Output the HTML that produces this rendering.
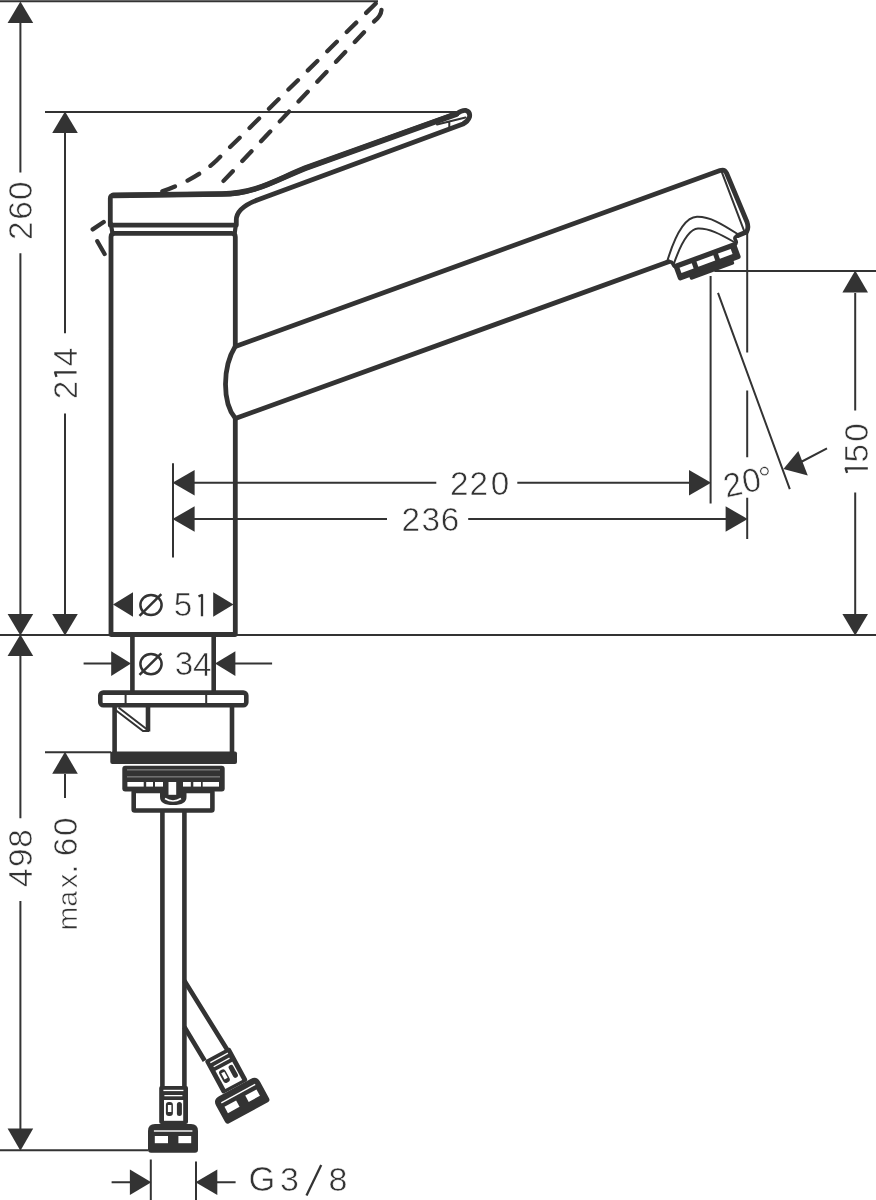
<!DOCTYPE html>
<html><head><meta charset="utf-8"><style>
html,body{margin:0;padding:0;background:#fff;}
svg{display:block;will-change:transform;}
text{font-family:"Liberation Sans",sans-serif;fill:#333;}
</style></head><body>
<svg width="876" height="1200" viewBox="0 0 876 1200">
<rect width="876" height="1200" fill="#fff"/>
<g stroke="#333" stroke-width="2" fill="none">
<path d="M0 1.2H378 M45 112H457 M0 635H876
M20.4 22V172.5 M20.4 253.3V614 M20.4 656V818.3 M20.4 901V1129
M65 133V333.3 M65 413.6V614 M65 774V798 M45 752.3H111 M0 1150.3H148
M173 463.2V557.4 M194 482.7H436.3 M517.3 482.7H690 M194 519H387 M468.2 519H726
M710.6 276V503.4 M747.2 232V352.4 M747.2 390.6V457.3 M747.2 497.7V539
M714.4 271H876 M855.2 293V410.6 M855.2 492.4V614
M718 292.9L789.8 489.2 M827 448.4L801 462
M83.6 663.6H112 M235 663.6H272.1
M150.8 1159.6V1200 M196 1161.6V1200 M111.6 1182.2H131 M216 1182.2H235.6"/>
</g>
<g fill="#333">
<path d="M20.4 1.5L33.2 23H7.6Z"/>
<path d="M65 111.5L77.8 133H52.2Z"/>
<path d="M20.4 635.5L33.2 614H7.6Z"/>
<path d="M65 635.5L77.8 614H52.2Z"/>
<path d="M20.4 634.5L33.2 656H7.6Z"/>
<path d="M65 751.8L77.8 773.8H52.2Z"/>
<path d="M20.4 1150.8L33.2 1128.6H7.6Z"/>
<path d="M172.5 482.7L194.6 470V495.4Z"/>
<path d="M172.5 519L194.6 506.3V531.7Z"/>
<path d="M711.1 482.7L689 470V495.4Z"/>
<path d="M747.7 519L725.6 506.3V531.7Z"/>
<path d="M855.2 270.5L868 292.5H842.4Z"/>
<path d="M855.2 635.5L868 614H842.4Z"/>
<path d="M113 604.5L133 592.2V616.8Z"/>
<path d="M233.5 604.5L213.2 592.2V616.8Z"/>
<path d="M131 663.6L111.2 651.3V675.9Z"/>
<path d="M215 663.6L235.4 651.3V675.9Z"/>
<path d="M151.3 1182.2L129.9 1169.4V1195Z"/>
<path d="M195.5 1182.2L217.3 1169.4V1195Z"/>
<path d="M783.4 469L798.3 451L807.8 475.4Z"/>
</g>
<g class="lbl" stroke="#fff" stroke-width="0.6"><text transform="translate(32.1,0) rotate(-90)" x="-230.8" y="0" font-size="33.3" text-anchor="middle">2</text><text transform="translate(31.8,0) rotate(-90)" x="-210.6" y="0" font-size="33.3" text-anchor="middle">6</text><text transform="translate(31.8,0) rotate(-90)" x="-190.8" y="0" font-size="33.3" text-anchor="middle">0</text><text transform="translate(76.5,0) rotate(-90)" x="-390.0" y="0" font-size="33.3" text-anchor="middle">2</text><text transform="translate(76.8,0) rotate(-90)" x="-357.0" y="0" font-size="33.3" text-anchor="middle">4</text><text transform="translate(867.5,0) rotate(-90)" x="-453.2" y="0" font-size="33.3" text-anchor="middle">5</text><text transform="translate(867.5,0) rotate(-90)" x="-432.4" y="0" font-size="33.3" text-anchor="middle">0</text><text transform="translate(32.2,0) rotate(-90)" x="-877.7" y="0" font-size="33.3" text-anchor="middle">4</text><text transform="translate(31.6,0) rotate(-90)" x="-857.7" y="0" font-size="33.3" text-anchor="middle">9</text><text transform="translate(31.6,0) rotate(-90)" x="-838.4" y="0" font-size="33.3" text-anchor="middle">8</text><text transform="translate(76.8,0) rotate(-90)" x="-826.8" y="0" font-size="33.3" text-anchor="middle">0</text><text transform="translate(76.8,0) rotate(-90)" x="-846.9" y="0" font-size="33.3" text-anchor="middle">6</text><text transform="translate(77.1,0) rotate(-90)" x="-869.2" y="0" font-size="33.3" text-anchor="middle">.</text><text transform="translate(77.1,0) rotate(-90)" x="-880.8" y="0" font-size="28.5" text-anchor="middle">x</text><text transform="translate(76.8,0) rotate(-90)" x="-898.7" y="0" font-size="28.5" text-anchor="middle">a</text><text transform="translate(77.1,0) rotate(-90)" x="-918.5" y="0" font-size="28.5" text-anchor="middle">m</text><text x="459.2" y="495.3" font-size="33.3" text-anchor="middle">2</text><text x="478.8" y="495.3" font-size="33.3" text-anchor="middle">2</text><text x="499.9" y="495.0" font-size="33.3" text-anchor="middle">0</text><text x="410.8" y="531.3" font-size="33.3" text-anchor="middle">2</text><text x="430.7" y="531.0" font-size="33.3" text-anchor="middle">3</text><text x="449.9" y="531.0" font-size="33.3" text-anchor="middle">6</text><text x="183.0" y="616.0" font-size="33.3" text-anchor="middle">5</text><text x="183.9" y="675.1" font-size="33.3" text-anchor="middle">3</text><text x="202.2" y="675.7" font-size="33.3" text-anchor="middle">4</text><text x="262.0" y="1190.7" font-size="34.5" text-anchor="middle">G</text><text x="289.5" y="1190.7" font-size="34" text-anchor="middle">3</text><text x="337.9" y="1190.7" font-size="34" text-anchor="middle">8</text><g transform="rotate(-12 745 483)"><text x="732.5" y="493.5" font-size="33.3" text-anchor="middle">2</text><text x="751.8" y="493.2" font-size="33.3" text-anchor="middle">0</text><text x="766.5" y="494.0" font-size="33.3" text-anchor="middle">°</text></g></g>
<g stroke="#333" stroke-width="2.3" fill="none" stroke-linecap="butt"><path d="M54.3 372.4H76.5M54.9 371.9L56.5 376.9"/><path d="M844.9 468.4H867.8M845.5 467.9L847.1 472.9"/><path d="M202.0 594.2V616.3M202.5 594.8L198.5 596.4"/><path d="M306.5 1195.5L321.2 1165"/></g>
<g stroke="#333" stroke-width="2.5" fill="none">
<ellipse cx="151" cy="605" rx="10.6" ry="10.1"/><path d="M139.5 615.8L161.3 594.2"/>
<ellipse cx="151" cy="664.1" rx="10.6" ry="10.1"/><path d="M139.5 674.9L161.3 653.3"/>
</g>
<g stroke="#333" stroke-width="4.8" fill="none" stroke-linejoin="round" stroke-linecap="round">
<path d="M111 634.5V237Q111 233.4 114.6 233.4H231.7Q235.3 233.4 235.3 237V346.5 M235.3 418.5V634.5H111"/>
<path d="M236.3 225V220Q236.3 207.8 258 199.7L463 124Q468 121.5 469.5 117Q470.5 112 466 110.5Q462 110 457 113.6L310 166.5C280 177.2 258 194 222 194L113.3 195.4Q110.3 195.6 110.3 198.5V225.2H236.3"/>
<path d="M235.3 346.5L720 170.6Q724.5 169 726.5 173L747 222Q749 228 746.5 232L738 235.5 M235.3 418.3C222 402 222.5 367 235.3 346.2 M235.3 418.5L668.6 261.8"/>
</g>
<g stroke="#333" stroke-width="2" fill="none" stroke-linecap="round">
<path d="M456.5 114L310 166.5C280 177.2 258 193.8 222 194L113.3 195.4" stroke-width="5.6"/>
<path d="M110.8 223.5L112.6 234 M236 223.5L234.6 234" stroke-width="4.2"/>
<path d="M721.9 172.3L744.5 231.9 M437 124.5L465.5 117.5 M449.3 121.5V127.5"/>
<path d="M666 262.5Q671.5 260.5 673 264Q674.5 267.5 677.5 266.5 M738 235.5Q733.5 237 735.5 240Q737.5 243 734 245.5" stroke-width="3.6"/>
<path d="M667 262C676 232 686 217 697 216.8C710 216.5 722 224 737.6 234 M673.4 265C681 243 689 229 698 228.6C709 228.2 720 234 734 242"/>
</g>
<g transform="translate(707.2,261.8) rotate(-20.2)" fill="#333">
<rect x="-33.3" y="-9.2" width="66.6" height="17.5" rx="2.5"/>
<rect x="-22" y="6" width="47" height="5.5" rx="1.5"/>
<g fill="#fff"><rect x="-28" y="-4" width="13" height="5.5"/><rect x="-10" y="-4" width="18" height="5.5"/><rect x="13" y="-4" width="13.5" height="5.5"/></g>
</g>
<g stroke="#333" stroke-width="4.3" fill="none" stroke-linecap="round">
<path d="M377.2 2L216.5 160.5Q197 179 162 191.5" stroke-dasharray="13.4 13.9" stroke-dashoffset="-2.1"/>
<path d="M214 191L368 28" stroke-dasharray="13.4 13.9" stroke-dashoffset="-13.9"/>
<path d="M381.5 9.8Q381 16 374 21.5"/>
<path d="M92.7 229.4L103.7 222 M97.3 241.2L104.6 254"/>
</g>
<g stroke="#333" stroke-width="4.6" fill="none" stroke-linejoin="round">
<path d="M132.4 636V691 M213.7 636V691"/>
<rect x="100.3" y="692.6" width="146" height="12.6" rx="3"/>
<path d="M114.6 707V752 M232 707V752 M148 707V731.5"/>
<rect x="133.7" y="791" width="78.7" height="19.5" rx="1"/>
<path d="M162.4 812V1087 M184.4 812V1087"/>
</g>
<g stroke="#333" stroke-width="2" fill="none">
<path d="M125.6 694V704 M206.2 694V704"/>
<path d="M113.5 708.5L143 731H149 M118.5 707.5L146.5 729"/>
</g>
<g fill="#333">
<rect x="110.3" y="751.6" width="126.7" height="12.4" rx="2"/>
<rect x="122.3" y="765.7" width="102.4" height="25.7" rx="3"/>
<path d="M160 791H186.5V797Q186.5 805 173 805Q160 805 160 797Z"/>
</g>
<g fill="#fff">
<rect x="127.4" y="782" width="16.3" height="4.6"/>
<rect x="146.2" y="782" width="6.8" height="4.6"/>
<rect x="155" y="782" width="8" height="4.6"/>
<rect x="168.5" y="782" width="7.7" height="12.8"/>
<rect x="183" y="782" width="7.8" height="4.6"/>
<rect x="193.3" y="782" width="7.7" height="4.6"/>
<rect x="202.7" y="782" width="16.3" height="4.6"/>
<path d="M165 798.5Q173 803.5 181 798.5" stroke="#fff" stroke-width="1.6" fill="none"/>
<rect x="127" y="769.5" width="93" height="0.8" opacity="0.6"/>
<rect x="127" y="776.5" width="93" height="0.8" opacity="0.6"/>
</g>
<g stroke="#333" stroke-width="4.6" fill="none">
<path d="M184.4 980.8L227.1 1049.5 M184.4 1027L204.7 1060.7"/>
</g>
<defs>
<g id="fit">
<rect x="-14.2" y="0" width="28.8" height="38" rx="2" fill="#333"/>
<rect x="-10" y="3.8" width="20" height="1.3" fill="#fff"/>
<rect x="-9" y="9" width="18" height="1.3" fill="#fff"/>
<rect x="-9.4" y="14" width="19.2" height="20.8" fill="#fff"/>
<rect x="-7.5" y="16" width="7" height="14" rx="3" fill="#333"/>
<rect x="-5.5" y="19" width="3.5" height="7" fill="#fff"/>
<rect x="3.5" y="16" width="5" height="14" rx="2.5" fill="#333"/>
<path d="M-25.4 45Q-25.4 38 -18.4 38H17.6Q24.6 38 24.6 45V63.7Q24.6 66.7 21.6 66.7H-22.4Q-25.4 66.7 -25.4 63.7Z" fill="#333"/>
<rect x="-19.5" y="44.3" width="38.5" height="1.4" fill="#fff"/>
<rect x="-18.6" y="50" width="13.2" height="7.2" fill="#fff"/>
<rect x="5" y="50" width="12.8" height="7.2" fill="#fff"/>
</g>
</defs>
<use href="#fit" transform="translate(173.4,1086)"/>
<use href="#fit" transform="translate(217,1054) rotate(-28.5)"/>
</svg>
</body></html>
